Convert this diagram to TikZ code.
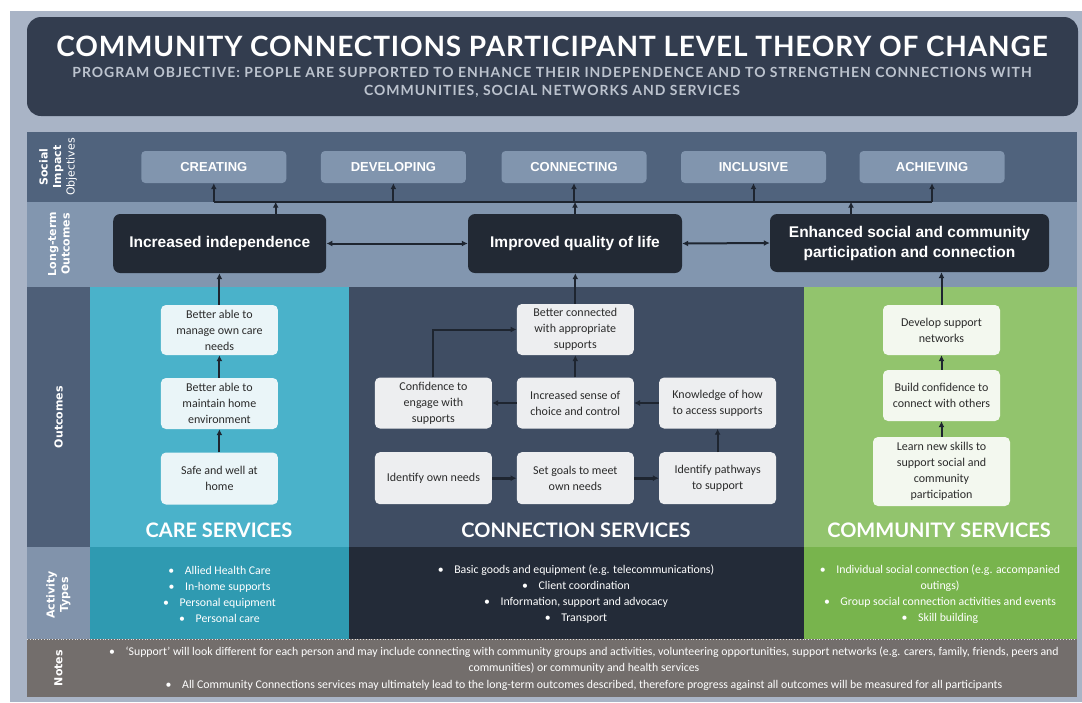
\documentclass[tikz,border=0pt]{standalone}
\usepackage{fontspec}
\setmainfont{Carlito}
\newfontfamily\headfont[LetterSpace=3]{Lato}
\newfontfamily\svcfont{Lato}
\newfontfamily\subfont[LetterSpace=7]{Lato}
\newfontfamily\labfont{DejaVu Sans}
\newfontfamily\boxfont{Liberation Sans}
\usetikzlibrary{arrows.meta,calc}

\definecolor{framebg}{HTML}{A9B4C6}
\definecolor{titlebg}{HTML}{333D4F}
\definecolor{subtxt}{HTML}{BCC3CE}
\definecolor{socialbg}{HTML}{50637D}
\definecolor{longbg}{HTML}{8296AF}
\definecolor{socbox}{HTML}{8195AE}
\definecolor{ltbox}{HTML}{222934}
\definecolor{outlabel}{HTML}{4E5F78}
\definecolor{careout}{HTML}{4AB2CA}
\definecolor{careact}{HTML}{2F9AB1}
\definecolor{connout}{HTML}{3F4D63}
\definecolor{connact}{HTML}{232B38}
\definecolor{commout}{HTML}{92C46D}
\definecolor{commact}{HTML}{78B44D}
\definecolor{actlabel}{HTML}{8193AB}
\definecolor{notesbg}{HTML}{736E6C}
\definecolor{carebox}{HTML}{EAF5F8}
\definecolor{connbox}{HTML}{EDEEF0}
\definecolor{commbox}{HTML}{F3F8EF}
\definecolor{arrowc}{HTML}{1E2530}
\definecolor{boxtxt}{HTML}{2B2B2B}

\newcommand\bl{\textbullet\hspace{0.9em}}

\tikzset{
  titlebox/.style={fill=titlebg, rounded corners=14pt, minimum width=1051pt, minimum height=99pt, inner sep=0pt},
  titletext/.style={text=white, font=\headfont\bfseries\fontsize{28}{30}\selectfont, inner sep=0pt},
  subtext/.style={text=subtxt, font=\subfont\bfseries\fontsize{14}{18}\selectfont, align=center, inner sep=0pt},
  rowlabel/.style={text=white, rotate=90, align=center, inner sep=0pt, font=\labfont\bfseries\fontsize{11}{13.5}\selectfont},
  socnode/.style={fill=socbox, rounded corners=4pt, minimum width=145pt, minimum height=32pt, inner sep=0pt, text=white, font=\boxfont\bfseries\fontsize{13}{15}\selectfont},
  ltnode/.style={fill=ltbox, rounded corners=7pt, minimum height=59pt, inner sep=0pt, text=white, align=center, font=\boxfont\bfseries\fontsize{15.5}{20}\selectfont},
  outnode/.style={rounded corners=5pt, minimum width=117pt, minimum height=51pt, inner sep=0pt, text=boxtxt, align=center, font=\fontsize{12}{16}\selectfont},
  carenode/.style={outnode, fill=carebox},
  connnode/.style={outnode, fill=connbox},
  commnode/.style={outnode, fill=commbox},
  svctitle/.style={text=white, inner sep=0pt, font=\svcfont\bfseries\fontsize{20}{22}\selectfont},
  acttext/.style={text=white, align=center, inner sep=0pt, font=\fontsize{11.8}{16}\selectfont},
  notetext/.style={text=white, align=center, inner sep=0pt, font=\fontsize{11.8}{16.5}\selectfont},
  arr/.style={draw=arrowc, line width=2pt, -{Latex[length=6pt,width=6pt]}},
  darr/.style={draw=arrowc, line width=2pt, {Latex[length=6pt,width=6pt]}-{Latex[length=6pt,width=6pt]}},
  busline/.style={draw=arrowc, line width=2pt},
}

\begin{document}
\begin{tikzpicture}[x=1pt,y=-1pt]
\useasboundingbox (0,0) rectangle (1082,702);
\fill[white] (0,0) rectangle (1082,702);
\fill[framebg] (10,11) rectangle (1082,702);

% header
\node[titlebox] (titlebg) at (552.5,66.5) {};
\node[titletext] (title) at (552,46) {COMMUNITY CONNECTIONS PARTICIPANT LEVEL THEORY OF CHANGE};
\node[subtext] (subtitle) at (552,82) {PROGRAM OBJECTIVE: PEOPLE ARE SUPPORTED TO ENHANCE THEIR INDEPENDENCE AND TO STRENGTHEN CONNECTIONS WITH\\COMMUNITIES, SOCIAL NETWORKS AND SERVICES};

% row bands
\fill[socialbg] (27,132) rectangle (1077,202);
\fill[longbg] (27,202) rectangle (1077,287);
\fill[outlabel] (27,287) rectangle (90,547);
\fill[careout] (90,287) rectangle (348.5,547);
\fill[connout] (348.5,287) rectangle (804,547);
\fill[commout] (804,287) rectangle (1077,547);
\fill[actlabel] (27,547) rectangle (90,639);
\fill[careact] (90,547) rectangle (348.5,639);
\fill[connact] (348.5,547) rectangle (804,639);
\fill[commact] (804,547) rectangle (1077,639);
\fill[notesbg] (27,639) rectangle (1077,697);
\draw[white!75!gray, line width=0.8pt, dotted] (27,639.5) -- (1077,639.5);

% row labels
\node[rowlabel] (lab-soc) at (58,167) {Social\\Impact\\{\mdseries Objectives}};
\node[rowlabel] (lab-lt) at (59,244) {Long-term\\Outcomes};
\node[rowlabel] (lab-out) at (58.5,417) {Outcomes};
\node[rowlabel] (lab-act) at (58.5,595) {Activity\\Types};
\node[rowlabel] (lab-notes) at (58.5,668) {Notes};

% social impact objectives
\node[socnode] (creating) at (213.8,167) {CREATING};
\node[socnode] (developing) at (393.4,167) {DEVELOPING};
\node[socnode] (connecting) at (574,167) {CONNECTING};
\node[socnode] (inclusive) at (753.5,167) {INCLUSIVE};
\node[socnode] (achieving) at (932,167) {ACHIEVING};

\coordinate (busL) at (213.8,201.7);
\coordinate (busR) at (932,201.7);
\draw[busline] (busL) -- (busR);
\foreach \n in {creating,developing,connecting,inclusive,achieving}
  \draw[arr] (\n.south |- busL) -- (\n.south);

% long-term outcomes
\node[ltnode, minimum width=213pt] (li) at (219.7,243.5) {Increased independence};
\node[ltnode, minimum width=214pt] (iq) at (575,243.5) {Improved quality of life};
\node[ltnode, minimum width=279pt, minimum height=58pt] (en) at (909.5,243) {Enhanced social and community\\participation and connection};

\draw[arr] ([xshift=56pt]li.north) -- ([xshift=56pt]li.north |- busL);
\draw[arr] (iq.north) -- (iq.north |- busL);
\draw[arr] ([xshift=-58.5pt]en.north) -- ([xshift=-58.5pt]en.north |- busL);
\draw[darr] (li.east) -- (iq.west);
\draw[darr] (iq.east) -- (en.west);

% care services outcomes
\node[carenode, minimum height=50pt] (manage) at (219.4,330) {Better able to\\manage own care\\needs};
\node[carenode] (maintain) at (219.4,403.5) {Better able to\\maintain home\\environment};
\node[carenode, minimum height=52pt] (safe) at (219.4,478.5) {Safe and well at\\home};
\draw[arr] (safe.north) -- (maintain.south);
\draw[arr] (maintain.north) -- (manage.south);
\draw[arr] (manage.north) -- (li.south -| manage.north);

% connection services outcomes
\node[connnode, minimum height=51pt] (better) at (575.3,329.5) {Better connected\\with appropriate\\supports};
\node[connnode] (conf) at (433.4,403) {Confidence to\\engage with\\supports};
\node[connnode] (sense) at (575.3,403) {Increased sense of\\choice and control};
\node[connnode] (know) at (717.6,403) {Knowledge of how\\to access supports};
\node[connnode, minimum height=52pt] (ident) at (433.4,478.2) {Identify own needs};
\node[connnode, minimum height=52pt] (goals) at (575.3,478.2) {Set goals to meet\\own needs};
\node[connnode, minimum height=52pt] (path) at (717.6,478.2) {Identify pathways\\to support};
\draw[arr, line width=3pt] (ident.east) -- (goals.west);
\draw[arr, line width=3pt] (goals.east) -- (path.west);
\draw[arr] (path.north) -- (know.south);
\draw[arr] (know.west) -- (sense.east);
\draw[arr] (sense.west) -- (conf.east);
\draw[arr] (sense.north) -- (better.south);
\draw[arr] (conf.north) |- (better.west);
\draw[arr] (better.north) -- (iq.south -| better.north);

% community services outcomes
\node[commnode, minimum height=50pt] (develop) at (941.5,330) {Develop support\\networks};
\node[commnode] (build) at (941.5,395.5) {Build confidence to\\connect with others};
\node[commnode, minimum width=137pt, minimum height=69pt] (learn) at (941.5,471.5) {Learn new skills to\\support social and\\community\\participation};
\draw[arr] (learn.north) -- (build.south);
\draw[arr] (build.north) -- (develop.south);
\draw[arr] (develop.north) -- (en.south -| develop.north);

% service titles
\node[svctitle] (caretitle) at (219,530) {CARE SERVICES};
\node[svctitle] (conntitle) at (576,530) {CONNECTION SERVICES};
\node[svctitle] (commtitle) at (939,530) {COMMUNITY SERVICES};

% activity types
\node[acttext] (careacts) at (219.5,594) {\bl Allied Health Care\\\bl In-home supports\\\bl Personal equipment\\\bl Personal care};
\node[acttext] (connacts) at (576,594) {\bl Basic goods and equipment (e.g. telecommunications)\\\bl Client coordination\\\bl Information, support and advocacy\\\bl Transport};
\node[acttext] (commacts) at (940,594) {\bl Individual social connection (e.g. accompanied\\outings)\\\bl Group social connection activities and events\\\bl Skill building};

% notes
\node[notetext] (notes) at (584,668.5) {\bl ‘Support’ will look different for each person and may include connecting with community groups and activities, volunteering opportunities, support networks (e.g. carers, family, friends, peers and\\communities) or community and health services\\\bl All Community Connections services may ultimately lead to the long-term outcomes described, therefore progress against all outcomes will be measured for all participants};
\end{tikzpicture}
\end{document}
